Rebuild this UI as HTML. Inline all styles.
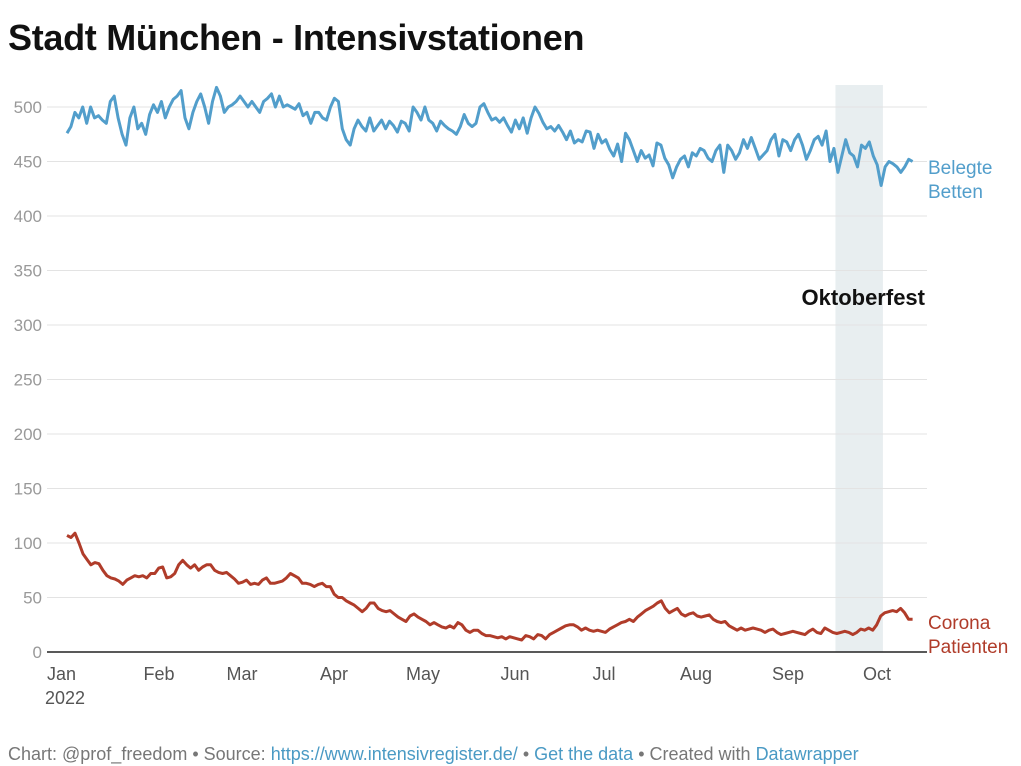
<!DOCTYPE html>
<html><head><meta charset="utf-8"><style>
body{margin:0;background:#fff;font-family:"Liberation Sans",sans-serif;}
#w{position:relative;width:1021px;height:766px;overflow:hidden}
h1{position:absolute;left:8px;top:18px;margin:0;font-size:36px;line-height:40px;font-weight:bold;color:#111;letter-spacing:-0.3px}
#foot{position:absolute;left:8px;top:744px;font-size:18px;color:#777}
#foot a{color:#4a9ac4;text-decoration:none}
</style></head><body><div id="w">
<h1>Stadt München - Intensivstationen</h1>
<svg id="c" width="1021" height="766" style="position:absolute;left:0;top:0"></svg>
<div id="foot">Chart: @prof_freedom • Source: <a>https://www.intensivregister.de/</a> • <a>Get the data</a> • Created with <a>Datawrapper</a></div>
</div>
<script>
const yTicks=[0,50,100,150,200,250,300,350,400,450,500];
const months=["Jan","Feb","Mar","Apr","May","Jun","Jul","Aug","Sep","Oct"];
const monthDays=[0,31,59,90,120,151,181,212,243,273];
const lastDay=285;
const highlightStart=259, highlightEnd=275;
const betten=[476,482,495,490,500,485,500,490,492,488,485,505,510,490,475,465,490,500,480,485,475,493,502,495,505,490,500,507,510,515,490,480,495,505,512,500,485,505,518,510,495,500,502,505,510,505,500,505,500,495,505,508,512,500,510,500,502,500,498,503,492,495,485,495,495,490,488,500,508,505,480,470,465,480,488,482,478,490,478,483,488,480,487,483,477,487,485,478,500,495,488,500,488,485,478,487,483,480,478,475,482,493,485,482,485,500,503,495,488,490,486,490,483,477,488,480,490,476,490,500,494,486,480,482,478,483,477,470,478,467,470,468,478,477,462,475,467,470,461,455,466,450,476,470,460,450,460,453,456,446,467,465,453,447,435,445,452,455,445,458,455,462,460,453,450,460,465,440,465,460,452,458,470,462,472,462,452,456,460,470,475,455,470,468,460,470,475,465,452,460,470,473,465,478,450,462,440,455,470,458,455,445,465,462,468,455,447,428,445,450,448,445,440,445,452,450];
const corona=[107,105,109,100,90,85,80,82,81,75,70,68,67,65,62,66,68,70,69,70,68,72,72,77,78,68,69,72,80,84,80,77,80,75,78,80,80,75,73,72,73,70,67,63,64,66,62,63,62,66,68,63,63,64,65,68,72,70,68,63,63,62,60,62,63,60,60,53,50,50,47,45,43,40,37,40,45,45,40,38,37,38,35,32,30,28,33,35,32,30,28,25,27,25,23,22,24,22,27,25,20,18,20,20,17,15,15,14,13,14,12,14,13,12,11,15,14,12,16,15,12,16,18,20,22,24,25,25,23,20,22,20,19,20,19,18,21,23,25,27,28,30,28,32,35,38,40,42,45,47,40,36,38,40,35,33,35,36,33,32,33,34,30,28,27,28,24,22,20,22,20,21,22,21,20,18,20,21,18,16,17,18,19,18,17,16,19,21,18,17,22,20,18,17,18,19,18,16,18,21,20,22,20,25,33,36,37,38,37,40,36,30,30];
const NS="http://www.w3.org/2000/svg";
const svg=document.getElementById('c');
const X0=67,PXD=2.967,Y0=652,PXU=1.09;
const xs=d=>X0+d*PXD, ys=v=>Y0-v*PXU;
function el(t,a){const e=document.createElementNS(NS,t);for(const k in a)e.setAttribute(k,a[k]);svg.appendChild(e);return e;}
const hl=el('rect',{x:xs(highlightStart),y:85,width:xs(highlightEnd)-xs(highlightStart),height:Y0-85,fill:'#e8eef0'});


yTicks.forEach(v=>{
 if(v>0){const g=el('line',{x1:47,x2:927,y1:ys(v),y2:ys(v),stroke:'#e3e3e3','stroke-width':1});
 
 }
 const t=el('text',{x:42,y:ys(v)+6,'text-anchor':'end','font-size':17,fill:'#999','font-family':'Liberation Sans'});
 t.textContent=v;
 
 
});
months.forEach((m,i)=>{
 const t=el('text',{x:xs(monthDays[i]),y:680,'text-anchor':i==0?'start':'middle','font-size':18,fill:'#555','font-family':'Liberation Sans'});
 if(i==0)t.setAttribute('x',xs(0)-20);
 t.textContent=m;
 
 
});
const yr=el('text',{x:45,y:704,'font-size':18,fill:'#555','font-family':'Liberation Sans'});yr.textContent='2022';


function line(arr,col,name){
 const step=lastDay/(arr.length-1);
 const p=el('polyline',{points:arr.map((v,i)=>xs(i*step).toFixed(1)+','+ys(v).toFixed(1)).join(' '),fill:'none',stroke:col,'stroke-width':3,'stroke-linejoin':'round'});
 
 
}
line(betten,'#529ecb','line-belegte-betten');
line(corona,'#b03c2a','line-corona-patienten');
const ax=el('line',{x1:47,x2:927,y1:Y0,y2:Y0,stroke:'#222','stroke-width':1.5});


function lab(txt,x,y,col,name,w){const t=el('text',{x:x,y:y,'font-size':19,fill:col,'font-family':'Liberation Sans','font-weight':w||'normal'});t.textContent=txt;
 
 return t;}
lab('Belegte',928,174,'#529ecb','label-belegte');
lab('Betten',928,198,'#529ecb','label-betten');
lab('Corona',928,629,'#b03c2a','label-corona');
lab('Patienten',928,653,'#b03c2a','label-patienten');
const ok=lab('Oktoberfest',925,305,'#111','oktoberfest-label','bold');ok.setAttribute('text-anchor','end');ok.setAttribute('font-size','22');
</script></body></html>
